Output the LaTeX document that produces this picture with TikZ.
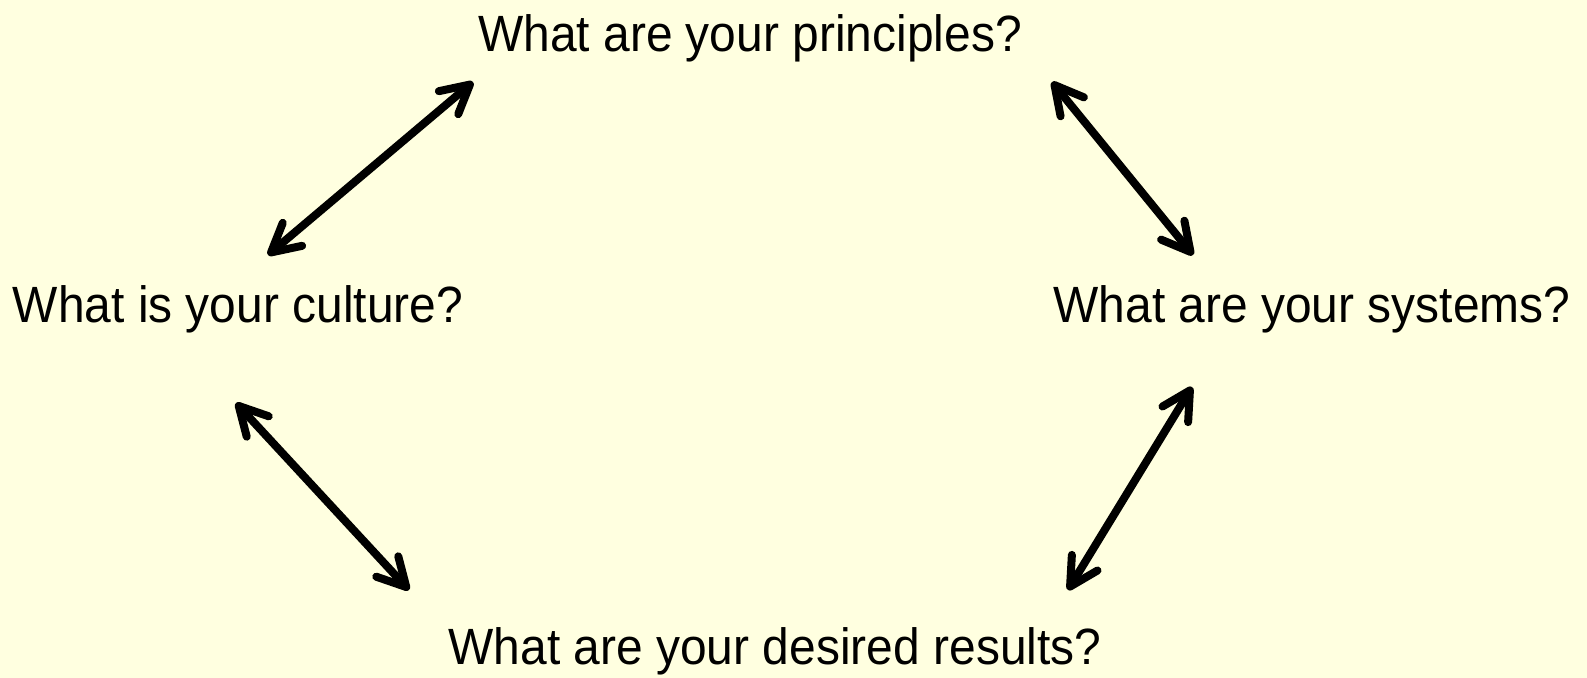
\documentclass[tikz,border=0pt]{standalone}
\usepackage{fontspec}
\setmainfont{Liberation Sans}
\usetikzlibrary{arrows.meta}
\definecolor{bg}{HTML}{FFFFE0}
\newcommand{\qtext}[1]{\scalebox{0.94}[1]{#1}}
\tikzset{
  q/.style={anchor=base, inner sep=0pt, font=\fontsize{25.5pt}{30pt}\selectfont},
  dbl/.style={line width=4pt, line cap=round,
    {Straight Barb[length=14pt, width=15pt, round]}-{Straight Barb[length=14pt, width=15pt, round]}}
}
\begin{document}
\begin{tikzpicture}[x=0.5pt, y=-0.5pt]
\fill[bg] (0,0) rectangle (1587,678);
\useasboundingbox (0,0) rectangle (1587,678);
\node[q] (prin) at (750,52) {\qtext{What are your principles?}};
\node[q] (cult) at (238,323) {\qtext{What is your culture?}};
\node[q] (sys) at (1312,323) {\qtext{What are your systems?}};
\node[q] (res) at (775,665) {\qtext{What are your desired results?}};
\coordinate (a1s) at (268,255);
\coordinate (a1e) at (473,82);
\coordinate (a2s) at (1052,82);
\coordinate (a2e) at (1193,255);
\coordinate (a3s) at (236,403);
\coordinate (a3e) at (409,590);
\coordinate (a4s) at (1192,387);
\coordinate (a4e) at (1068,590);
\draw[dbl] (a1s) -- (a1e);
\draw[dbl] (a2s) -- (a2e);
\draw[dbl] (a3s) -- (a3e);
\draw[dbl] (a4s) -- (a4e);
\end{tikzpicture}
\end{document}
